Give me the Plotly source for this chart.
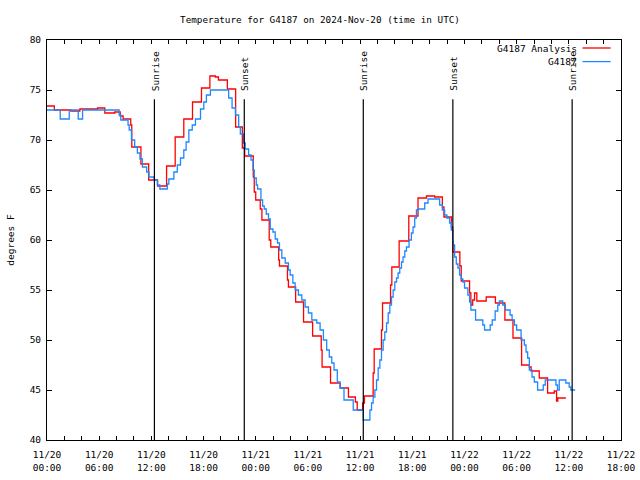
import plotly.graph_objects as go
from datetime import datetime, timedelta

# ---------------- data ----------------
base_time = datetime(2024, 11, 20, 0, 0)

# G4187 Analysis (red): hours since 11/20 00:00 UTC, degrees F
analysis_hours = [0.0, 0.84, 2.75, 3.78, 5.81, 6.65, 7.79, 8.42, 8.75, 9.63, 9.75, 10.8, 11.69,
                  12.72, 13.75, 14.74, 15.73, 16.73, 17.76, 18.73, 19.36, 19.71, 20.74, 21.69,
                  22.46, 22.73, 23.72, 23.83, 24.0, 24.52, 24.71, 25.55, 25.73, 26.64, 26.73,
                  27.65, 27.76, 28.59, 29.5, 30.54, 31.53, 31.63, 32.6, 33.71, 34.66, 35.46,
                  35.67, 36.29, 36.5, 37.5, 37.62, 38.46, 38.58, 39.5, 39.65, 40.49, 41.6,
                  42.66, 43.63, 44.57, 45.46, 45.64, 46.49, 46.64, 46.67, 47.47, 47.63, 48.59,
                  48.74, 48.95, 49.16, 49.42, 50.5, 51.56, 52.65, 53.58, 54.57, 55.46, 55.66,
                  56.6, 57.56, 58.33, 58.59, 58.73, 59.66]
analysis_temps = [73.4, 73.0, 72.9, 73.1, 73.2, 72.7, 72.8, 72.4, 72.1, 71.5, 69.3, 67.6, 66.0,
                  65.4, 67.4, 70.3, 72.1, 73.8, 75.2, 76.4, 76.3, 76.0, 75.1, 71.3,
                  69.2, 68.4, 66.3, 64.8, 64.0, 63.1, 62.0, 60.0, 59.3, 58.0, 57.4,
                  56.0, 55.3, 53.8, 51.8, 50.4, 49.0, 47.3, 45.7, 45.2, 44.3, 43.8,
                  43.0, 43.7, 44.4, 46.7, 49.1, 51.0, 53.7, 55.5, 57.3, 59.9, 62.4,
                  64.2, 64.4, 64.3, 63.3, 62.3, 61.3, 59.8, 58.8, 57.4, 55.9, 54.7,
                  53.5, 54.0, 54.7, 53.9, 54.3, 53.7, 52.0, 50.2, 47.5, 47.3, 46.9,
                  46.2, 44.7, 44.9, 43.9, 44.2, 44.2]

# G4187 observations (blue)
obs_hours = [0.0, 1.52, 2.56, 3.59, 4.09, 8.29, 8.48, 9.32, 9.45, 9.71, 10.08, 10.39, 10.69,
             10.97, 11.46, 11.72, 12.29, 12.68, 12.98, 13.83, 14.01, 14.59, 14.98, 15.35, 15.73,
             16.0, 16.31, 16.7, 17.07, 17.65, 18.03, 18.33, 18.79, 20.89, 21.28, 21.66, 22.04,
             22.23, 22.61, 22.8, 23.18, 23.46, 23.69, 23.83, 24.06, 24.21, 24.6, 24.79, 24.98,
             25.21, 25.47, 25.67, 25.98, 26.24, 26.5, 26.73, 27.0, 27.39, 27.76, 27.96, 28.27,
             28.53, 28.91, 29.3, 29.68, 30.06, 30.45, 31.02, 31.4, 31.78, 32.16, 32.46, 32.74,
             33.0, 33.38, 33.69, 34.15, 35.21, 36.36, 37.13, 37.32, 37.5, 37.7, 37.89, 38.08,
             38.27, 38.46, 38.65, 38.84, 39.04, 39.23, 39.42, 39.61, 39.8, 39.99, 40.19, 40.37,
             40.56, 40.76, 40.94, 41.14, 41.33, 41.63, 41.9, 42.09, 42.28, 42.48, 42.66, 43.43,
             43.81, 45.15, 45.46, 45.72, 45.98, 46.29, 46.49, 46.67, 46.87, 47.06, 47.25, 47.44,
             47.63, 47.82, 48.01, 48.39, 48.59, 48.74, 49.28, 50.11, 50.31, 50.96, 51.19, 51.53,
             51.83, 52.02, 52.4, 52.71, 53.25, 53.48, 53.74, 54.0, 54.51, 54.89, 55.08, 55.27,
             55.46, 55.77, 56.03, 56.41, 57.06, 57.29, 58.52, 58.7, 58.9, 59.66, 60.04, 60.23,
             60.73]
obs_temps = [73.0, 72.1, 73.0, 72.1, 73.0, 72.5, 72.0, 71.5, 71.0, 70.0, 69.3, 68.7, 68.1,
             67.3, 66.8, 66.3, 66.0, 65.5, 65.1, 65.6, 66.1, 66.8, 67.5, 68.2, 69.0,
             69.8, 71.0, 71.5, 72.1, 73.1, 73.8, 74.5, 75.0, 74.2, 73.2, 72.5, 71.3,
             70.6, 69.7, 69.1, 68.5, 68.0, 67.0, 66.2, 65.5, 65.1, 64.0, 63.4, 63.1,
             62.6, 62.1, 61.1, 60.8, 60.1, 59.7, 59.0, 58.2, 57.7, 57.0, 56.5, 55.7,
             55.0, 54.5, 54.0, 53.3, 52.7, 52.0, 51.7, 51.0, 50.0, 49.0, 48.3, 47.7,
             47.0, 45.8, 45.2, 44.0, 43.0, 42.0, 43.0, 43.7, 44.3, 45.0, 46.0, 47.2,
             48.0, 49.0, 50.0, 50.8, 51.7, 52.7, 53.5, 54.3, 55.0, 55.8, 56.2, 56.7,
             57.2, 57.8, 58.3, 58.9, 59.3, 60.0, 60.7, 61.3, 62.2, 63.0, 63.1, 63.7,
             64.1, 63.5, 63.0, 62.5, 62.2, 61.7, 61.0, 59.5, 58.3, 57.6, 57.2, 56.5,
             56.1, 55.8, 55.2, 54.5, 53.8, 53.0, 52.0, 51.5, 51.0, 51.5, 52.0, 52.9,
             53.5, 53.9, 53.5, 53.0, 52.5, 52.0, 51.5, 51.0, 50.0, 49.5, 48.8, 48.2,
             47.0, 46.3, 45.8, 45.0, 45.5, 46.0, 45.5, 45.0, 46.0, 45.7, 45.3, 45.0,
             45.0]

sun_labels = ["Sunrise", "Sunset", "Sunrise", "Sunset", "Sunrise"]
sun_times = ["2024-11-20 12:21", "2024-11-20 22:41", "2024-11-21 12:22",
             "2024-11-21 22:40", "2024-11-22 12:23"]

series_names = ["G4187 Analysis", "G4187"]
series_colors = ["#ff0000", "#1e88ff"]

x_start = "2024-11-20 00:00"
x_end = "2024-11-22 18:00"
tick_step_hours = 2
label_step_hours = 6
total_hours = 66
y_ticks = [40, 45, 50, 55, 60, 65, 70, 75, 80]

# ---------------- figure ----------------
FONT = "DejaVu Sans Mono"


def to_times(hours):
    return [base_time + timedelta(hours=h) for h in hours]


fig = go.Figure()
fig.add_trace(go.Scatter(x=to_times(analysis_hours), y=analysis_temps, mode="lines",
                         line=dict(color=series_colors[0], width=1.3, shape="hv"),
                         name=series_names[0], showlegend=False))
fig.add_trace(go.Scatter(x=to_times(obs_hours), y=obs_temps, mode="lines",
                         line=dict(color=series_colors[1], width=1.3, shape="hv"),
                         name=series_names[1], showlegend=False))

tickvals, ticktext = [], []
for h in range(0, total_hours + 1, tick_step_hours):
    t = base_time + timedelta(hours=h)
    tickvals.append(t)
    ticktext.append(t.strftime("%m/%d<br>%H:%M") if h % label_step_hours == 0 else "")

# Sunrise / sunset markers
for lbl, t in zip(sun_labels, sun_times):
    fig.add_shape(type="line", xref="x", yref="paper", x0=t, x1=t, y0=0, y1=0.852,
                  line=dict(color="black", width=1.2))
    fig.add_annotation(x=t, xref="x", y=0.868, yref="paper", text=lbl, textangle=-90,
                       showarrow=False, xanchor="center", yanchor="bottom", xshift=1,
                       font=dict(family=FONT, size=9.5, color="black"))

# Legend (gnuplot style: text then line sample, top right)
legend_y = [0.98, 0.946]
for name, col, ly in zip(series_names, series_colors, legend_y):
    fig.add_annotation(x=0.926, xref="paper", y=ly, yref="paper", text=name,
                       showarrow=False, xanchor="right", yanchor="middle",
                       font=dict(family=FONT, size=9.5, color="black"))
    fig.add_shape(type="line", xref="paper", yref="paper", x0=0.933, x1=0.982,
                  y0=ly, y1=ly, line=dict(color=col, width=1.3))

fig.update_layout(
    width=640, height=480,
    margin=dict(l=47, r=19, t=40, b=40, autoexpand=False),
    paper_bgcolor="white", plot_bgcolor="white",
    font=dict(family=FONT, size=9.5, color="black"),
    title=dict(text="Temperature for G4187 on 2024-Nov-20 (time in UTC)",
               x=0.5, xref="container", xanchor="center",
               y=1 - 20 / 480, yref="container", yanchor="middle",
               automargin=False,
               font=dict(family=FONT, size=9.3, color="black")),
    showlegend=False,
)
fig.update_xaxes(range=[x_start, x_end], tickmode="array", tickvals=tickvals, ticktext=ticktext,
                 ticks="inside", ticklen=4, tickcolor="black", showline=True, linecolor="black",
                 linewidth=1, mirror="ticks", showgrid=False, zeroline=False, automargin=False,
                 ticklabelstandoff=6,
                 tickfont=dict(family=FONT, size=9.5, color="black"))
fig.update_yaxes(range=[40, 80], tickmode="array", tickvals=y_ticks,
                 ticks="inside", ticklen=5, tickcolor="black", showline=True, linecolor="black",
                 linewidth=1, mirror="ticks", showgrid=False, zeroline=False, automargin=False,
                 ticklabelstandoff=3,
                 tickfont=dict(family=FONT, size=9.5, color="black"),
                 title=dict(text="degrees F", standoff=13,
                            font=dict(family=FONT, size=9.5, color="black")))

fig.write_html("out.html", config={"displayModeBar": False},
               post_script="document.body.style.margin='0px';")
